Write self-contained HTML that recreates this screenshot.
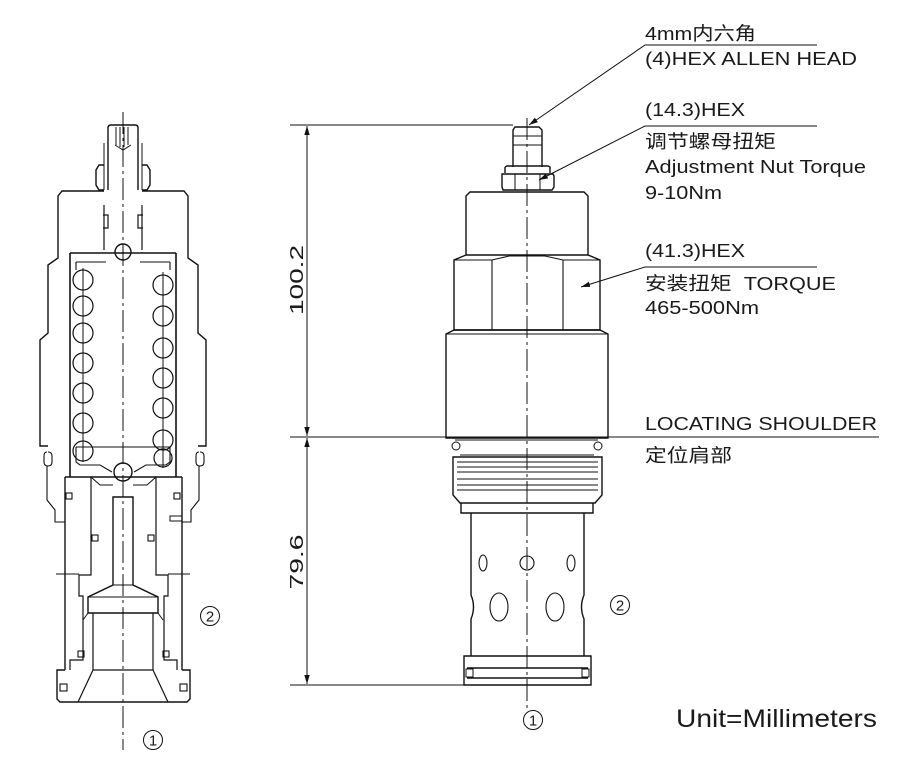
<!DOCTYPE html>
<html><head><meta charset="utf-8"><style>
html,body{margin:0;padding:0;background:#fff;}
svg{display:block;}
text{font-family:"Liberation Sans","Noto Sans CJK SC",sans-serif;fill:#1a1a1a;}
</style></head><body>
<svg width="900" height="762" viewBox="0 0 900 762" xmlns="http://www.w3.org/2000/svg">
<defs>
<marker id="ar" viewBox="0 0 10 10" refX="10" refY="5" markerWidth="9" markerHeight="9" orient="auto-start-reverse" markerUnits="userSpaceOnUse"><path d="M0,2 L10,5 L0,8 z" fill="#111"/></marker>
</defs>
<g fill="none" stroke="#111" stroke-width="1.4">
<line x1="123" y1="112" x2="123" y2="750" stroke-width="1" stroke-dasharray="22,4,3,4"/>
<path d="M108,190 L108,128 Q108,125 111,125 L135,125 Q138,125 138,128 L138,190"/>
<path d="M116,127 V145 M120,127 V147 M124,127 V147 M128,127 V145 M115,145 L123,150 L131,145" stroke-width="1"/>
<path d="M104,143 V190 M142,143 V190" stroke-width="1"/>
<path d="M104,165 L99,165 L96,170 L96,185 L99,190 L104,190 M142,165 L147,165 L150,170 L150,185 L147,190 L142,190"/>
<path d="M104,191 L62,191 L58,196 L58,258 L48,265 L48,333 L40,340 L40,446 L48,446"/>
<path d="M142,191 L184,191 L188,196 L188,258 L198,265 L198,333 L206,340 L206,446 L198,446"/>
<path d="M104,205 V250 M142,205 V250 M103,215 H108 V228 H103 M143,215 H138 V228 H143" stroke-width="1.2"/>
<path d="M70,253 V477 M176,253 V477 M70,253 H176" stroke-width="1.6"/>
<path d="M76,262 H106 M140,262 H170 M76,262 V270 M170,262 V270" stroke-width="1.1"/>
<circle cx="123" cy="252" r="8"/>
<g stroke-width="1.2">
<circle cx="83" cy="280" r="10"/><circle cx="83" cy="306" r="10"/><circle cx="83" cy="333" r="10"/><circle cx="83" cy="363" r="10"/><circle cx="83" cy="393" r="10"/><circle cx="83" cy="423" r="10"/><circle cx="83" cy="451" r="10"/>
<circle cx="163" cy="285" r="10"/><circle cx="163" cy="316" r="10"/><circle cx="163" cy="348" r="10"/><circle cx="163" cy="378" r="10"/><circle cx="163" cy="408" r="10"/><circle cx="163" cy="440" r="10"/><circle cx="163" cy="458" r="9"/>
<path d="M83,268 V462 M163,272 V468" stroke-width="1"/>
</g>
<path d="M76,447 H170 M76,447 V462 L80,465 H100 L112,472 M170,447 V462 L166,465 H146 L134,472" stroke-width="1.1"/>
<circle cx="123" cy="472" r="9"/>
<path d="M47,452 Q44,452 44,456 V462 Q44,466 48,466 Q52,466 52,462 V456 Q52,452 48,452 M199,452 Q196,452 196,456 V462 Q196,466 200,466 Q204,466 204,462 V456 Q204,452 200,452" stroke-width="1.1"/>
<path d="M47,466 V500 L55,510 V522 H65 M199,466 V500 L191,510 V522 H182" stroke-width="1.1"/>
<path d="M170,516 H182 V521 H170 z" stroke-width="1"/>
<path d="M65,477 H182 M65,477 V670 M182,477 V670"/>
<path d="M91,477 V575 H79 V596 H83 V660 H70 V670 M156,477 V575 H168 V596 H164 V660 H177 V670" stroke-width="1.2"/>
<path d="M91,477 L100,485 H113 M156,477 L147,485 H133" stroke-width="1"/>
<path d="M56,574 H79 M168,574 H190" stroke-width="1"/>
<path d="M113,497 V585 L88,597 V613 H158 V597 L133,585 V497 Z"/>
<path d="M113,585 H133 M88,597 H158" stroke-width="1"/>
<path d="M93,613 V670 M153,613 V670" stroke-width="1.2"/>
<path d="M88,613 L83,620 M158,613 L163,620" stroke-width="1"/>
<g stroke-width="1.1">
<rect x="66" y="493" width="6" height="6"/><rect x="174" y="493" width="6" height="6"/>
<rect x="92" y="535" width="6" height="6"/><rect x="148" y="535" width="6" height="6"/>
<rect x="78" y="651" width="6" height="6"/><rect x="163" y="651" width="6" height="6"/>
<rect x="60" y="684" width="7" height="7"/><rect x="180" y="684" width="7" height="7"/>
</g>
<path d="M65,670 H57 V699 L60,702 H187 L190,699 V670 H182"/>
<path d="M93,670 L78,702 M153,670 L168,702 M93,670 H153" stroke-width="1.2"/>

<line x1="527" y1="118" x2="527" y2="710" stroke-width="1" stroke-dasharray="22,4,3,4"/>
<path d="M513,167 V130 L515,127 H539 L542,130 V167"/>
<path d="M513,136 H542 M513,145 H542" stroke-width="1"/>
<path d="M505,167 L507,166 H548 L550,167 V173 M505,167 V173 M502,174 H553 L554,176 V187 L552,190 H503 L502,187 Z"/>
<path d="M515,174 V190 M540,174 V190" stroke-width="1"/>
<path d="M466,255 V196 L470,192 H584 L588,196 V255"/>
<path d="M466,255 L454,260 V330 H600 V260 L588,255 Z"/>
<path d="M454,260 H492 L509,256 H545 L563,260 H600 M492,260 V330 M563,260 V330" stroke-width="1.1"/>
<path d="M454,330 L446,334 V438 H608 V334 L600,330 Z"/>
<path d="M446,334 H608" stroke-width="1.1"/>
<path d="M455,440 H598 M460,455 H594" stroke-width="1.1"/>
<circle cx="456" cy="446" r="4" stroke-width="1"/><circle cx="598" cy="446" r="4" stroke-width="1"/>
<path d="M453,457 H602 V495 L595,503 H460 L453,495 Z"/>
<path d="M457,462 H598 M457,467 H598 M457,472 H598 M457,479 H598 M457,485 H598 M457,490 H598" stroke-width="0.9"/>
<path d="M461,503 V513 H593 V503"/>
<path d="M471,513 V595 Q476,607 471,619 V656 M584,513 V595 Q579,607 584,619 V656"/>
<ellipse cx="483" cy="563" rx="4" ry="8" stroke-width="1.1"/>
<circle cx="527" cy="563" r="7" stroke-width="1.1"/>
<ellipse cx="571" cy="563" rx="4" ry="8" stroke-width="1.1"/>
<ellipse cx="499" cy="607" rx="9" ry="14" stroke-width="1.1"/>
<ellipse cx="555" cy="607" rx="9" ry="14" stroke-width="1.1"/>
<path d="M464,656 H591 V685 H464 Z M467,668 H588 M467,678 H588"/>
<rect x="466" y="669" width="7" height="8" stroke-width="1"/><rect x="582" y="669" width="7" height="8" stroke-width="1"/>

<g stroke-width="1">
<line x1="290" y1="125" x2="513" y2="125"/>
<line x1="290" y1="437" x2="879" y2="437"/>
<line x1="290" y1="685" x2="464" y2="685"/>
<line x1="307" y1="126" x2="307" y2="436" marker-start="url(#ar)" marker-end="url(#ar)"/>
<line x1="307" y1="438" x2="307" y2="684" marker-start="url(#ar)" marker-end="url(#ar)"/>
<polyline points="817,45 645,45 529,125" marker-end="url(#ar)" fill="none"/>
<polyline points="817,126 645,126 539,180" marker-end="url(#ar)" fill="none"/>
<polyline points="817,267 645,267 581,287" marker-end="url(#ar)" fill="none"/>
</g>
</g>

<g font-size="18.5">
<text x="645" y="40" textLength="111" lengthAdjust="spacingAndGlyphs">4mm内六角</text>
<text x="645" y="65" textLength="212" lengthAdjust="spacingAndGlyphs">(4)HEX ALLEN HEAD</text>
<text x="645" y="116" textLength="100" lengthAdjust="spacingAndGlyphs">(14.3)HEX</text>
<text x="645" y="148" textLength="131" lengthAdjust="spacingAndGlyphs">调节螺母扭矩</text>
<text x="645" y="173" textLength="221" lengthAdjust="spacingAndGlyphs">Adjustment Nut Torque</text>
<text x="645" y="199" textLength="77" lengthAdjust="spacingAndGlyphs">9-10Nm</text>
<text x="645" y="257" textLength="100" lengthAdjust="spacingAndGlyphs">(41.3)HEX</text>
<text x="645" y="290" textLength="191" lengthAdjust="spacingAndGlyphs">安装扭矩 &#160;TORQUE</text>
<text x="645" y="314" textLength="114" lengthAdjust="spacingAndGlyphs">465-500Nm</text>
<text x="645" y="430" textLength="232" lengthAdjust="spacingAndGlyphs">LOCATING SHOULDER</text>
<text x="645" y="462" textLength="87" lengthAdjust="spacingAndGlyphs">定位肩部</text>
<text transform="translate(303,280) rotate(-90)" text-anchor="middle" textLength="70" lengthAdjust="spacingAndGlyphs">100.2</text>
<text transform="translate(303,562) rotate(-90)" text-anchor="middle" textLength="55" lengthAdjust="spacingAndGlyphs">79.6</text>
</g>
<text x="676" y="727" font-size="25" textLength="201" lengthAdjust="spacingAndGlyphs">Unit=Millimeters</text>
<g font-size="15" text-anchor="middle" fill="#111" stroke="none">
<circle cx="533" cy="720" r="9.5" fill="none" stroke="#111" stroke-width="1"/><text x="533" y="725.5">1</text>
<circle cx="153" cy="740" r="9.5" fill="none" stroke="#111" stroke-width="1"/><text x="153" y="745.5">1</text>
<circle cx="620" cy="605" r="9.5" fill="none" stroke="#111" stroke-width="1"/><text x="620" y="610.5">2</text>
<circle cx="210" cy="616" r="9.5" fill="none" stroke="#111" stroke-width="1"/><text x="210" y="621.5">2</text>
</g>
</svg>
</body></html>
